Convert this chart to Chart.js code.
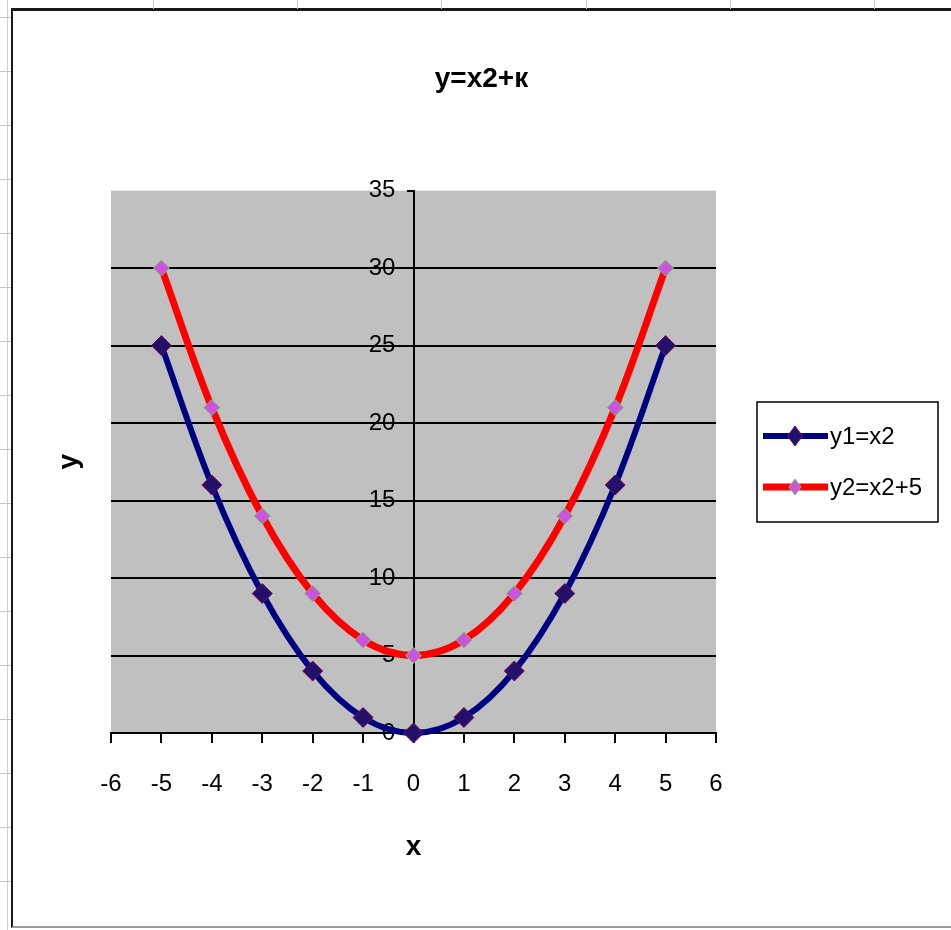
<!DOCTYPE html>
<html>
<head>
<meta charset="utf-8">
<title>y=x2+к</title>
<script src="https://cdn.jsdelivr.net/npm/chart.js@4.4.1/dist/chart.umd.min.js"></script>
<style>
  body { margin:0; background:#fff; width:951px; height:930px; overflow:hidden; position:relative; }
  .sheet-col { position:absolute; top:0; width:1px; height:9px; background:#c8c8c8; }
  .sheet-row { position:absolute; left:0; width:11px; height:1px; background:#c8c8c8; }
  #sheetEdge { position:absolute; left:7px; top:0; width:1px; height:930px; background:#d0d0d0; }
  #frame { position:absolute; left:11px; top:8px; width:960px; height:915px;
           border-left:2px solid #1a1a1a; border-top:3px solid #1a1a1a; border-bottom:2px solid #9a9a9a; }
  #chart { position:absolute; left:0; top:0; }
</style>
</head>
<body>
<div id="sheetEdge"></div>
<div id="frame"></div>
<canvas id="chart" width="951" height="930"></canvas>
<script>
// chart data
const xValues = [-5, -4, -3, -2, -1, 0, 1, 2, 3, 4, 5];
const y1Values = [25, 16, 9, 4, 1, 0, 1, 4, 9, 16, 25];
const y2Values = [30, 21, 14, 9, 6, 5, 6, 9, 14, 21, 30];
const seriesNames = ['y1=x2', 'y2=x2+5'];
const xTicks = [-6, -5, -4, -3, -2, -1, 0, 1, 2, 3, 4, 5, 6];
const yTicks = [0, 5, 10, 15, 20, 25, 30, 35];
const chartTitle = 'y=x2+к';
const xTitle = 'x';
const yTitle = 'y';

const FONT = "'Liberation Sans', Arial, sans-serif";

// spreadsheet grid peeking out around the chart object
[153, 297, 441, 586, 730, 874].forEach(x => {
  const d = document.createElement('div');
  d.className = 'sheet-col';
  d.style.left = x + 'px';
  document.body.appendChild(d);
});
for (let y = 17; y < 930; y += 54) {
  const d = document.createElement('div');
  d.className = 'sheet-row';
  d.style.top = y + 'px';
  document.body.appendChild(d);
}

function toPoints(xs, ys) {
  return xs.map((x, i) => ({x: x, y: ys[i]}));
}

// gray plot area like excel
const plotBackground = {
  id: 'plotBackground',
  beforeDraw(chart) {
    const {ctx, chartArea} = chart;
    ctx.save();
    ctx.fillStyle = '#c0c0c0';
    ctx.fillRect(chartArea.left, chartArea.top, chartArea.right - chartArea.left, chartArea.bottom - chartArea.top);
    ctx.restore();
  }
};

// boxed legend with line + marker samples
const boxedLegend = {
  id: 'boxedLegend',
  afterDraw(chart) {
    const ctx = chart.ctx;
    const box = {left: 757, top: 402, right: 938, bottom: 522};
    const rows = [436, 487];
    ctx.save();
    ctx.strokeStyle = '#000';
    ctx.lineWidth = 1.5;
    ctx.strokeRect(box.left, box.top, box.right - box.left, box.bottom - box.top);
    chart.data.datasets.forEach((ds, i) => {
      const y = rows[i];
      ctx.strokeStyle = ds.borderColor;
      ctx.lineWidth = ds.borderWidth;
      ctx.beginPath();
      ctx.moveTo(763, y);
      ctx.lineTo(828, y);
      ctx.stroke();
      const r = ds.pointRadius;
      const cx = 795;
      ctx.fillStyle = ds.pointBackgroundColor;
      ctx.strokeStyle = ds.pointBorderColor;
      ctx.lineWidth = ds.pointBorderWidth;
      ctx.beginPath();
      ctx.moveTo(cx, y - r);
      ctx.lineTo(cx + r * 0.75, y);
      ctx.lineTo(cx, y + r);
      ctx.lineTo(cx - r * 0.75, y);
      ctx.closePath();
      ctx.fill();
      ctx.stroke();
      ctx.fillStyle = '#000';
      ctx.font = '24px ' + FONT;
      ctx.textBaseline = 'middle';
      ctx.textAlign = 'left';
      ctx.fillText(ds.label, 830, y + 1);
    });
    ctx.restore();
  }
};

const chart = new Chart(document.getElementById('chart'), {
  type: 'line',
  data: {
    datasets: [
      {
        label: seriesNames[0],
        data: toPoints(xValues, y1Values),
        borderColor: '#000080',
        borderWidth: 6,
        tension: 0.35,
        pointStyle: 'rectRot',
        pointRadius: 10,
        pointBackgroundColor: '#22106a',
        pointBorderColor: '#7a1050',
        pointBorderWidth: 1,
        clip: false
      },
      {
        label: seriesNames[1],
        data: toPoints(xValues, y2Values),
        borderColor: '#ff0000',
        borderWidth: 7,
        tension: 0.35,
        pointStyle: 'rectRot',
        pointRadius: 8,
        pointBackgroundColor: '#d050e0',
        pointBorderColor: '#60d060',
        pointBorderWidth: 1,
        clip: false
      }
    ]
  },
  options: {
    responsive: false,
    animation: false,
    layout: {padding: {left: 12, top: 0, right: 0, bottom: 0}},
    font: {family: FONT},
    plugins: {
      legend: {display: false},
      tooltip: {enabled: false},
      title: {
        display: true,
        text: chartTitle,
        color: '#000',
        font: {family: FONT, size: 28, weight: 'bold'},
        padding: {top: 62, bottom: 95}
      }
    },
    scales: {
      x: {
        type: 'linear',
        position: 'bottom',
        min: xTicks[0],
        max: xTicks[xTicks.length - 1],
        afterFit(scale) { scale.height = 197; },
        ticks: {
          stepSize: 1,
          color: '#000',
          padding: 27,
          font: {family: FONT, size: 24}
        },
        grid: {drawOnChartArea: false, drawTicks: true, tickLength: 10, color: '#000', lineWidth: 2},
        border: {display: true, color: '#000', width: 2},
        title: {
          display: true,
          text: xTitle,
          color: '#000',
          font: {family: FONT, size: 28, weight: 'bold'},
          padding: {top: 0, bottom: 66}
        }
      },
      y: {
        type: 'linear',
        position: {x: 0},
        min: yTicks[0],
        max: yTicks[yTicks.length - 1],
        ticks: {
          stepSize: 5,
          color: '#000',
          font: {family: FONT, size: 24},
          // centred axes get no label padding, so keep a gap with spaces
          callback: value => value + '\u2007\u2009'
        },
        grid: {
          color: ctx => (ctx.tick && ctx.tick.value === yTicks[yTicks.length - 1]) ? 'rgba(0,0,0,0)' : '#000',
          tickColor: '#000',
          lineWidth: 2,
          tickLength: 6
        },
        border: {display: true, color: '#000', width: 2}
      },
      yTitleAxis: {
        type: 'linear',
        position: 'left',
        afterFit(scale) { scale.width = 99; },
        ticks: {display: false},
        grid: {display: false},
        border: {display: false},
        title: {
          display: true,
          text: yTitle,
          color: '#000',
          font: {family: FONT, size: 28, weight: 'bold'},
          padding: {top: 40, bottom: 0}
        }
      },
      legendSpace: {
        type: 'linear',
        position: 'right',
        afterFit(scale) { scale.width = 235; },
        ticks: {display: false},
        grid: {display: false},
        border: {display: false}
      }
    }
  },
  plugins: [plotBackground, boxedLegend]
});
</script>
</body>
</html>
